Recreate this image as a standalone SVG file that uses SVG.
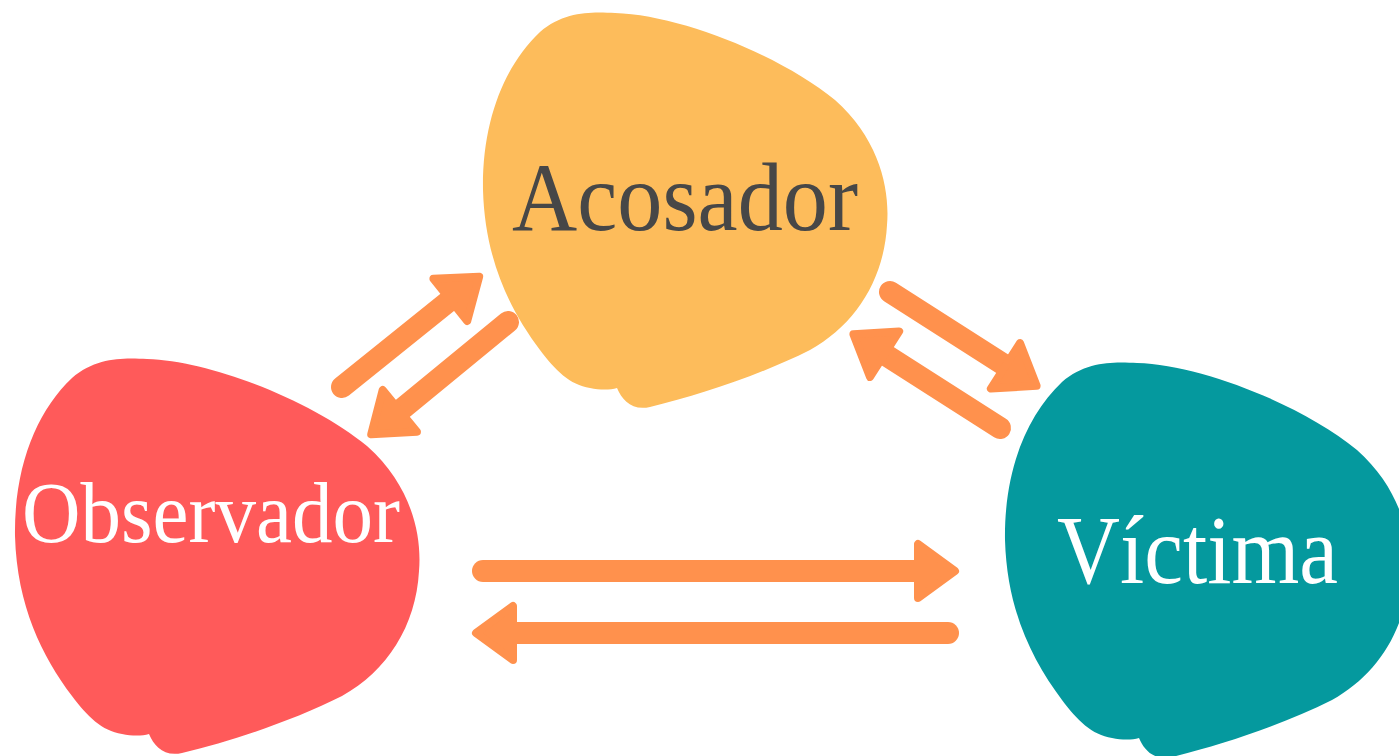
<svg xmlns="http://www.w3.org/2000/svg" width="1399" height="756" viewBox="0 0 1399 756">
<style>
.lbl{font-family:"Liberation Serif","DejaVu Serif",serif;}
.line{stroke:#FF914D;stroke-width:22;stroke-linecap:round;fill:none;}
.head{fill:#FF914D;stroke:#FF914D;stroke-width:8;stroke-linejoin:round;}
</style>
<defs>
<path id="blob" d="M615,13 C680,15 780,55 835,100 C880,140 890,190 887,225 C884,280 855,325 810,350 C760,375 700,395 650,407 C632,411 622,400 617,388 C610,390 600,390 590,388 C570,385 555,370 540,350 C510,310 485,260 483,190 C482,120 505,65 540,32 C565,10 595,12 615,13 Z"/>
</defs>
<rect width="1399" height="756" fill="#FFFFFF"/>
<g id="acosador">
<use href="#blob" fill="#FDBC5B"/>
<text class="lbl" x="512" y="230" font-size="98" fill="#474747" textLength="346" lengthAdjust="spacingAndGlyphs">Acosador</text>
</g>
<g id="observador">
<use href="#blob" fill="#FF5A5A" transform="translate(-468,346)"/>
<text class="lbl" x="22" y="542" font-size="86" fill="#FFFFFF" textLength="378" lengthAdjust="spacingAndGlyphs">Observador</text>
</g>
<g id="victima">
<use href="#blob" fill="#05999E" transform="translate(522,350)"/>
<text class="lbl" x="1057" y="583" font-size="98" fill="#FFFFFF" textLength="281" lengthAdjust="spacingAndGlyphs">Víctima</text>
</g>
<g id="connectors">
<g>
<line class="line" x1="483" y1="571" x2="925" y2="571"/>
<polygon class="head" points="918,544 918,598 955,571"/>
</g>
<g>
<line class="line" x1="948" y1="633" x2="510" y2="633"/>
<polygon class="head" points="513,606 513,660 476,633"/>
</g>
<g transform="translate(342,387) rotate(-38.8)">
<line class="line" x1="0" y1="0" x2="146" y2="0"/>
<polygon class="head" points="139,-27 139,27 176,0"/>
</g>
<g transform="translate(508,322) rotate(140.6)">
<line class="line" x1="0" y1="0" x2="147" y2="0"/>
<polygon class="head" points="140,-27 140,27 177,0"/>
</g>
<g transform="translate(890,292) rotate(32.6)">
<line class="line" x1="0" y1="0" x2="144" y2="0"/>
<polygon class="head" points="137,-27 137,27 174,0"/>
</g>
<g transform="translate(1000,428) rotate(212.6)">
<line class="line" x1="0" y1="0" x2="144" y2="0"/>
<polygon class="head" points="137,-27 137,27 174,0"/>
</g>
</g>
</svg>
